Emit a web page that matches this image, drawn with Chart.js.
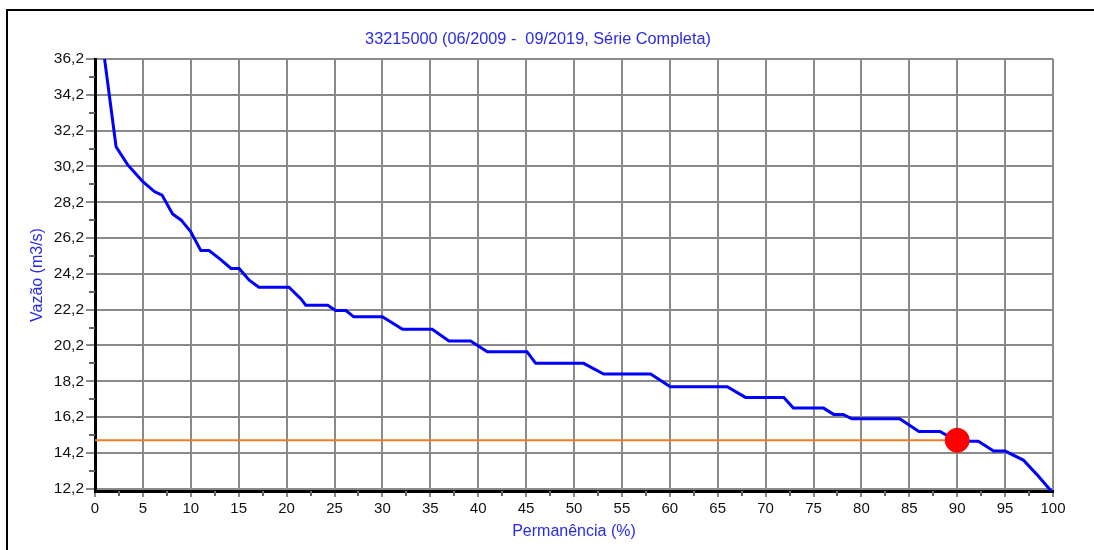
<!DOCTYPE html>
<html>
<head>
<meta charset="utf-8">
<script src="https://cdn.jsdelivr.net/npm/chart.js@4/dist/chart.umd.min.js"></script>
<style>
  body { margin: 0; background: #fff; }
  #moldura {
    position: absolute; left: 6px; top: 9px; right: 0; bottom: 0;
    border-left: 2px solid #000; border-top: 2px solid #000;
    pointer-events: none;
  }
  canvas { position: absolute; left: 0; top: 0; }
</style>
</head>
<body>
<canvas id="curvaPermanencia" width="1094" height="550"></canvas>
<div id="moldura"></div>
<script>
// Curva de permanencia - 33215000
const permanencia = [1.0, 2.2, 3.4, 5.0, 6.2, 7.0, 8.1, 9.0, 10.0, 11.05, 11.9, 13.0, 14.2, 15.05, 16.1, 17.1,
    20.25, 21.5, 22.0, 24.3, 25.1, 26.2, 27.0, 30.0, 32.1, 35.2, 36.95, 39.2, 40.95, 45.1, 46.0, 51.0,
    53.1, 58.0, 60.05, 66.0, 67.9, 71.9, 72.9, 76.05, 77.1, 78.1, 79.0, 84.0, 86.0, 88.2, 89.5,
    91.0, 92.2, 93.8, 95.0, 96.9, 98.3, 100.0];
const vazao = [36.2, 31.3, 30.3, 29.35, 28.8, 28.6, 27.55, 27.2, 26.55, 25.5, 25.5, 25.05, 24.5, 24.5, 23.85, 23.45,
    23.45, 22.8, 22.45, 22.45, 22.15, 22.15, 21.8, 21.8, 21.1, 21.1, 20.45, 20.45, 19.85, 19.85, 19.2, 19.2,
    18.6, 18.6, 17.9, 17.9, 17.3, 17.3, 16.7, 16.7, 16.35, 16.35, 16.1, 16.1, 15.4, 15.4, 15.0,
    14.85, 14.85, 14.3, 14.3, 13.8, 13.0, 11.95];

// Q90
const q90Perm = 90;
const q90Vazao = 14.9;

const xTicks = [0, 5, 10, 15, 20, 25, 30, 35, 40, 45, 50, 55, 60, 65, 70, 75, 80, 85, 90, 95, 100];
const yTicks = [12.2, 14.2, 16.2, 18.2, 20.2, 22.2, 24.2, 26.2, 28.2, 30.2, 32.2, 34.2, 36.2];

const fonte = 'Liberation Sans, Arial, sans-serif';
const azulTexto = '#2a2ae8';

// marcas secundarias (meio do intervalo) fora da area
const minorTicks = {
    id: 'minorTicks',
    afterDraw(chart) {
        const ctx = chart.ctx;
        const x = chart.scales.x, y = chart.scales.y;
        const area = chart.chartArea;
        ctx.save();
        ctx.strokeStyle = '#666';
        ctx.lineWidth = 2;
        ctx.beginPath();
        for (let i = 0; i < yTicks.length - 1; i++) {
            const py = Math.round(y.getPixelForValue((yTicks[i] + yTicks[i + 1]) / 2));
            ctx.moveTo(area.left - 6, py);
            ctx.lineTo(area.left, py);
        }
        for (let i = 0; i < xTicks.length - 1; i++) {
            const px = Math.round(x.getPixelForValue((xTicks[i] + xTicks[i + 1]) / 2));
            ctx.moveTo(px, area.bottom);
            ctx.lineTo(px, area.bottom + 5);
        }
        ctx.stroke();
        ctx.restore();
    }
};

const ctx = document.getElementById('curvaPermanencia').getContext('2d');
new Chart(ctx, {
    type: 'line',
    data: {
        datasets: [{
            label: 'Q90',
            data: [{ x: q90Perm, y: q90Vazao }],
            showLine: false,
            pointRadius: 12,
            pointBackgroundColor: '#ff0000',
            pointBorderColor: '#ff0000',
            order: 0
        }, {
            label: 'Vazão',
            data: permanencia.map((p, i) => ({ x: p, y: vazao[i] })),
            borderColor: '#0000ff',
            borderWidth: 3,
            pointRadius: 0,
            tension: 0,
            order: 1
        }, {
            label: 'Referência Q90',
            data: [{ x: 0, y: q90Vazao }, { x: q90Perm, y: q90Vazao }],
            borderColor: '#ee7d2e',
            borderWidth: 2,
            pointRadius: 0,
            order: 2
        }]
    },
    options: {
        responsive: false,
        animation: false,
        layout: { padding: { top: 10, right: 18, bottom: 0, left: 0 } },
        plugins: {
            legend: { display: false },
            tooltip: { enabled: false },
            title: {
                display: true,
                text: '33215000 (06/2009 -  09/2019, Série Completa)',
                color: azulTexto,
                font: { family: fonte, size: 16.3, weight: 'normal' },
                padding: { top: 20, bottom: 9.5 }
            }
        },
        scales: {
            x: {
                type: 'linear',
                min: 0,
                max: 100,
                afterFit: s => { s.height = 59; },
                afterBuildTicks: s => { s.ticks = xTicks.map(v => ({ value: v })); },
                ticks: {
                    color: '#111',
                    font: { family: fonte, size: 15 },
                    padding: 3,
                    maxRotation: 0,
                    autoSkip: false
                },
                grid: { color: '#8a8a8a', lineWidth: 2, tickLength: 6 },
                border: { color: '#000', width: 3 },
                title: {
                    display: true,
                    text: 'Permanência (%)',
                    color: azulTexto,
                    font: { family: fonte, size: 16 },
                    padding: { top: 0, bottom: 8.4 }
                }
            },
            y: {
                min: 12.07,
                max: 36.2,
                afterFit: s => { s.width = 95; },
                afterBuildTicks: s => { s.ticks = yTicks.map(v => ({ value: v })); },
                ticks: {
                    color: '#111',
                    font: { family: fonte, size: 15.5 },
                    padding: 2,
                    autoSkip: false,
                    callback: v => v.toFixed(1).replace('.', ',')
                },
                grid: { color: '#8a8a8a', lineWidth: 2, tickLength: 9 },
                border: { color: '#000', width: 3 },
                title: {
                    display: true,
                    text: 'Vazão (m3/s)',
                    color: azulTexto,
                    font: { family: fonte, size: 16 },
                    padding: { top: 28.4, bottom: 0 }
                }
            },
            // eixo vazio a direita, so para reservar margem
            yDir: {
                position: 'right',
                display: true,
                afterFit: s => { s.width = 23; },
                ticks: { display: false },
                grid: { display: false },
                border: { display: false }
            }
        }
    },
    plugins: [minorTicks]
});
</script>
</body>
</html>
